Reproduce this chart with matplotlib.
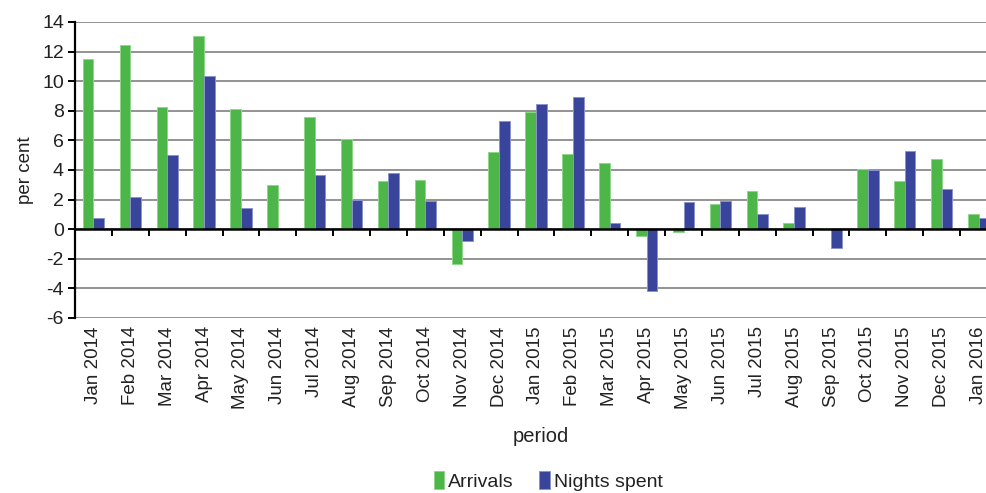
import numpy as np
import matplotlib.pyplot as plt

plt.rcParams['font.family'] = ['Liberation Sans', 'DejaVu Sans']
plt.rcParams['axes.unicode_minus'] = False

periods = ['Jan 2014', 'Feb 2014', 'Mar 2014', 'Apr 2014', 'May 2014', 'Jun 2014',
           'Jul 2014', 'Aug 2014', 'Sep 2014', 'Oct 2014', 'Nov 2014', 'Dec 2014',
           'Jan 2015', 'Feb 2015', 'Mar 2015', 'Apr 2015', 'May 2015', 'Jun 2015',
           'Jul 2015', 'Aug 2015', 'Sep 2015', 'Oct 2015', 'Nov 2015', 'Dec 2015',
           'Jan 2016']
arrivals = [11.5, 12.45, 8.27, 13.05, 8.09, 2.96, 7.55, 6.12, 3.25, 3.3, -2.37, 5.2,
            7.9, 5.06, 4.45, -0.49, -0.16, 1.72, 2.55, 0.45, 0.1, 4.07, 3.28, 4.72, 1.04]
nights = [0.77, 2.2, 5.0, 10.35, 1.4, 0.0, 3.68, 1.97, 3.77, 1.88, -0.83, 7.34,
          8.47, 8.9, 0.45, -4.17, 1.81, 1.88, 1.0, 1.52, -1.24, 4.02, 5.26, 2.74, 0.77]

green = '#4cb748'
blue = '#39449b'
txt = '#222222'

fig = plt.figure(figsize=(9.86, 4.93), dpi=100)
ax = fig.add_axes([75/986, 1-318/493, 922/986, 296/493])

x = np.arange(len(periods))
w = 0.29
ax.bar(x - w/2, arrivals, w, color=green, edgecolor='#8fd68b', linewidth=0.7,
       label='Arrivals', zorder=3)
ax.bar(x + w/2, nights, w, color=blue, edgecolor='#8c93cc', linewidth=0.7,
       label='Nights spent', zorder=3)

ax.set_xlim(-0.5, len(periods) - 0.5)
ax.set_ylim(-6, 14)
ax.set_yticks(np.arange(-6, 15, 2))
ax.yaxis.grid(True, color='#939393', linewidth=1.4, zorder=0)
ax.set_axisbelow(True)

for s in ['top', 'right']:
    ax.spines[s].set_visible(False)
ax.spines['left'].set_linewidth(1.6)
ax.spines['left'].set_zorder(4)
ax.spines['bottom'].set_position(('data', 0))
ax.spines['bottom'].set_linewidth(1.8)
ax.spines['bottom'].set_zorder(4)

ax.set_xticks(np.arange(len(periods) + 1) - 0.5)
ax.tick_params(axis='x', direction='out', length=5, width=1.4, labelbottom=False)
ax.tick_params(axis='y', direction='out', length=5, width=1.4, labelsize=14,
               labelcolor=txt, pad=3)

sec = ax.secondary_xaxis('bottom')
sec.set_xticks(x, periods, rotation=90, fontsize=13.5, color=txt)
sec.tick_params(length=0, pad=6)
sec.spines['bottom'].set_visible(False)

ax.set_ylabel('per cent', fontsize=13.5, color=txt, labelpad=6)
fig.text(541/986, 1-437/493, 'period', ha='center', va='center', fontsize=14.5, color=txt)

fig.legend(loc='center', bbox_to_anchor=(548/986, 1-481/493), ncol=2, frameon=False,
           fontsize=14, handlelength=0.55, handleheight=1.0, handletextpad=0.2,
           columnspacing=1.3, labelcolor=txt, borderpad=0)

fig.savefig('out.png', dpi=100)
